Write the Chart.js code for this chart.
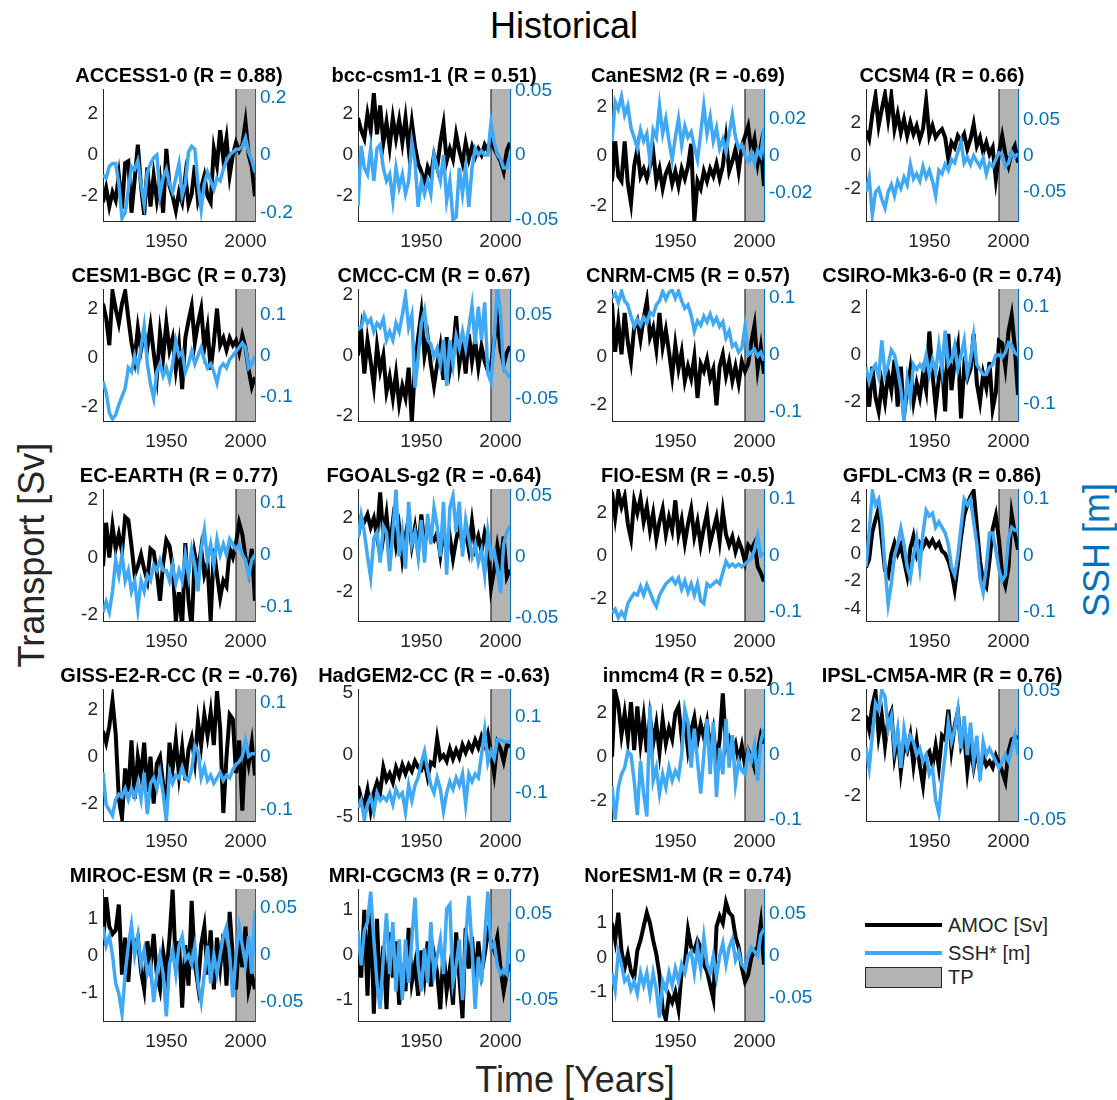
<!DOCTYPE html>
<html>
<head>
<meta charset="utf-8">
<script src="https://cdn.jsdelivr.net/npm/chart.js@4.4.0/dist/chart.umd.min.js"></script>
<style>
  body { margin: 0; background: #fff; font-family: "Liberation Sans", Arial, sans-serif; }
  #page { position: relative; width: 1117px; height: 1100px; overflow: hidden; background: #fff; }
  canvas.panel { position: absolute; }
  .lbl { position: absolute; white-space: nowrap; color: #262626; transform: translate(-50%, -50%); }
  .rot { transform: translate(-50%, -50%) rotate(-90deg); }
  .leg-line { position: absolute; left: 865px; width: 77px; height: 4px; }
  .leg-text { position: absolute; left: 948px; font-size: 20px; color: #262626; transform: translateY(-50%); }
</style>
</head>
<body>
<div id="page">
  <div class="lbl" style="left:564px; top:26px; font-size:36px; color:#000;">Historical</div>
  <div class="lbl rot" style="left:32px; top:555px; font-size:36px;">Transport [Sv]</div>
  <div class="lbl rot" style="left:1097px; top:550px; font-size:36px; color:#0072BD;">SSH [m]</div>
  <div class="lbl" style="left:575px; top:1080px; font-size:36px;">Time [Years]</div>

  <div class="leg-line" style="top:923px; background:#000;"></div>
  <div class="leg-text" style="top:925px;">AMOC [Sv]</div>
  <div class="leg-line" style="top:951px; background:#3fa9f5;"></div>
  <div class="leg-text" style="top:953px;">SSH* [m]</div>
  <div style="position:absolute; left:865px; top:967px; width:75px; height:19px; background:#b3b3b3; border:1px solid #262626;"></div>
  <div class="leg-text" style="top:977px;">TP</div>
</div>
<script>
// years sampled every 2 years
const YEARS = [1910,1912,1914,1916,1918,1920,1922,1924,1926,1928,
               1930,1932,1934,1936,1938,1940,1942,1944,1946,1948,
               1950,1952,1954,1956,1958,1960,1962,1964,1966,1968,
               1970,1972,1974,1976,1978,1980,1982,1984,1986,1988,
               1990,1992,1994,1996,1998,2000,2002,2004,2006];

const MODELS = ['ACCESS1-0','bcc-csm1-1','CanESM2','CCSM4','CESM1-BGC','CMCC-CM','CNRM-CM5','CSIRO-Mk3-6-0',
                'EC-EARTH','FGOALS-g2','FIO-ESM','GFDL-CM3','GISS-E2-R-CC','HadGEM2-CC','inmcm4','IPSL-CM5A-MR',
                'MIROC-ESM','MRI-CGCM3','NorESM1-M'];
const R_VALUES = [0.88, 0.51, -0.69, 0.66, 0.73, 0.67, 0.57, 0.74, 0.77, -0.64, -0.5, 0.86, -0.76, -0.63, 0.52, 0.76, -0.58, 0.77, 0.74];

const TP_START = 1994;

// AMOC [Sv] and SSH* [m] per model
const amocACCESS = [-2.3,-1.6,-2.5,-1.8,-2.2,-1.0,-2.6,-0.4,-0.3,-2.8, -1.2,0.5,-1.5,-2.9,-0.6,-2.5,-1.0,-2.2,-1.2,-2.8,
  0.3,-1.5,-2.0,-2.7,-1.8,-2.3,-1.0,-2.4,-1.9,-0.5, -2.2,-1.6,-1.0,-2.0,-2.3,0.3,-0.5,1.2,-0.2,0.8, -1.0,0.0,0.6,0.2,0.5,1.6,0.0,-0.6,-2.0];
const sshACCESS = [-0.07,-0.08,-0.04,-0.03,-0.03,-0.10,-0.22,-0.20,-0.12,-0.04, -0.05,-0.02,-0.10,-0.17,-0.06,-0.03,-0.01,0.00,-0.14,-0.08,
  -0.05,-0.10,-0.13,-0.08,-0.03,-0.14,-0.10,0.01,0.03,0.02, -0.10,-0.19,-0.10,-0.06,-0.09,-0.12,-0.08,-0.09,-0.05,-0.02, 0.00,0.01,0.02,0.02,0.03,0.06,0.01,-0.02,-0.06];

const amocBCC = [1.8,1.2,0.8,2.0,1.2,3.0,1.0,2.4,0.6,1.6, 0.4,1.8,0.8,1.7,0.6,1.8,0.3,1.6,0.4,-0.4,
  -0.8,-1.4,-0.6,-1.0,0.0,-0.6,0.6,1.5,-0.3,0.3, -0.2,1.0,0.2,-0.4,0.6,-0.2,0.4,-0.1,0.3,0.0, 0.5,0.2,0.8,0.3,0.0,-0.3,-0.8,0.2,0.6];
const sshBCC = [-0.040,0.007,-0.010,-0.015,0.005,-0.020,0.005,0.008,-0.010,-0.020, -0.015,-0.035,-0.010,-0.025,-0.015,-0.030,-0.020,0.010,-0.005,-0.040,
  -0.020,-0.030,-0.020,-0.030,0.000,-0.010,-0.020,0.000,-0.035,-0.020, -0.050,-0.048,-0.010,-0.030,-0.010,-0.040,-0.010,0.005,0.000,0.003, 0.000,0.000,0.025,0.010,0.000,-0.003,-0.010,-0.010,0.000];

const amocCAN = [-1.0,0.6,-0.8,-1.0,0.6,-1.1,-1.9,-0.4,0.3,-0.8, -0.5,-0.9,-0.4,0.2,-1.0,-0.5,-1.3,-0.7,-0.4,-1.1,
  -0.6,-1.2,-0.5,-0.9,-0.4,0.5,-2.6,-1.0,-1.3,-0.6, -1.0,-0.5,-0.8,-0.3,-0.9,-0.4,0.7,-0.6,-0.2,0.3, -0.6,0.4,0.8,1.2,0.2,0.7,-0.3,0.4,-1.2];
const sshCAN = [0.008,0.029,0.025,0.032,0.022,0.027,0.015,0.010,0.004,0.014, 0.008,0.012,-0.003,0.014,0.010,0.027,0.012,0.020,0.008,-0.002,
  0.010,0.020,0.006,0.016,0.010,0.013,0.005,-0.002,0.012,0.027, 0.012,0.021,0.008,0.015,0.004,0.009,0.002,0.012,0.022,0.010, 0.004,0.006,0.000,-0.003,0.002,-0.004,0.003,0.000,0.015];

const amocCCSM = [1.5,1.0,2.5,3.6,1.8,2.8,3.7,2.2,3.6,1.6, 2.5,1.4,2.2,1.2,2.0,1.3,1.8,1.0,1.6,3.3,
  1.2,1.8,1.1,1.4,1.6,1.1,-0.2,0.8,0.5,1.2, 0.9,1.3,0.4,1.0,1.9,0.6,1.1,0.2,0.8,0.1, 0.5,-1.4,0.2,1.2,0.1,-0.6,0.2,0.6,-0.4];
const sshCCSM = [-0.050,-0.030,-0.082,-0.050,-0.045,-0.060,-0.072,-0.050,-0.040,-0.055, -0.035,-0.045,-0.030,-0.040,-0.012,-0.032,-0.025,-0.035,-0.015,-0.030,
  -0.020,-0.035,-0.055,-0.020,-0.025,-0.012,-0.020,-0.005,-0.010,0.005, 0.020,-0.010,-0.002,-0.012,0.000,-0.008,-0.015,-0.003,-0.025,-0.010, -0.015,-0.005,0.004,0.002,-0.015,-0.010,0.005,-0.002,0.003];

const amocCESM = [2.2,1.6,0.5,2.7,2.0,1.4,2.2,2.7,1.6,0.6, -0.1,1.2,0.3,1.0,0.4,1.3,0.2,-0.8,1.0,0.0,
  1.4,0.3,0.8,-0.5,0.5,-1.3,0.8,1.5,2.1,0.6, 1.4,2.0,0.4,1.2,-0.5,0.6,2.0,0.5,0.8,0.3, 0.8,0.5,0.7,0.2,0.9,0.4,-0.5,-1.2,-0.8];
const sshCESM = [-0.063,-0.090,-0.140,-0.155,-0.145,-0.120,-0.100,-0.080,-0.030,-0.040, 0.000,-0.030,0.020,0.072,-0.020,-0.070,-0.104,-0.040,-0.020,-0.050,
  -0.030,-0.060,-0.020,0.035,0.000,0.010,-0.040,-0.020,0.010,-0.020, 0.000,0.020,-0.010,-0.030,-0.020,-0.040,-0.067,-0.030,-0.020,-0.030, -0.010,0.000,0.010,0.020,0.031,0.020,-0.030,-0.020,0.000];

const amocCMCC = [0.0,0.8,-0.6,0.5,-0.2,-1.0,0.3,-0.5,0.0,-1.2, -0.7,-1.4,-0.6,-1.6,-1.0,-1.4,-0.4,-2.2,-0.3,0.6,
  1.4,0.0,0.6,-0.3,-1.0,-0.3,0.3,-0.8,0.6,-0.5, 0.1,1.3,-0.3,0.4,-0.6,0.7,-0.2,0.5,-0.4,0.3, -0.2,-0.5,-0.3,0.5,1.2,0.2,-0.3,0.1,0.3];
const sshCMCC = [0.033,0.035,0.050,0.040,0.045,0.030,0.040,0.035,0.045,0.020, 0.030,0.020,0.040,0.030,0.050,0.073,0.035,0.050,-0.037,0.000,
  0.040,0.055,0.020,0.015,0.000,0.010,-0.010,0.020,-0.035,0.020, -0.010,0.025,0.010,0.030,0.010,0.035,0.061,0.015,0.060,0.020, 0.065,-0.020,-0.030,0.020,0.085,0.050,-0.015,-0.020,-0.025];

const amocCNRM = [2.2,0.2,1.4,0.1,1.8,0.6,-0.2,1.2,1.5,0.7, 1.6,2.3,0.8,1.2,0.3,1.8,0.4,1.1,0.2,-0.8,
  0.5,-0.5,0.2,-1.0,-0.4,-0.9,0.0,-1.7,-0.3,-0.6, -0.1,-0.9,-0.5,-2.0,-0.4,0.1,-0.8,-0.2,-1.0,-0.4, -1.1,-0.2,-0.6,-0.3,0.6,1.3,-0.5,0.4,-0.7];
const sshCNRM = [0.100,0.108,0.092,0.112,0.095,0.088,0.068,0.050,0.062,0.052, 0.066,0.056,0.075,0.070,0.088,0.095,0.112,0.098,0.110,0.114,
  0.100,0.113,0.095,0.082,0.088,0.070,0.042,0.060,0.052,0.068, 0.058,0.072,0.055,0.065,0.050,0.058,0.030,0.042,0.015,0.020, 0.005,0.012,0.050,0.000,0.005,0.010,-0.002,0.005,-0.010];

const amocCSIRO = [-1.0,-2.2,-0.5,-1.8,-2.4,-1.2,-2.0,-0.8,-1.5,-0.2, -2.2,-0.5,-2.6,-1.5,-0.6,-2.0,-1.2,-1.8,-0.8,-1.5,
  1.0,-0.8,-2.2,-1.0,-0.4,-2.4,0.9,-1.5,-0.3,0.4, -2.7,-0.5,-1.0,-0.6,0.9,-1.2,-2.0,-0.8,-1.4,-0.3, -2.3,-1.6,0.6,0.5,-0.5,1.0,1.7,0.3,-1.7];
const sshCSIRO = [-0.025,-0.055,-0.030,-0.020,-0.045,0.030,-0.040,-0.020,0.010,0.000, -0.030,-0.070,-0.136,-0.050,-0.090,-0.020,-0.030,-0.020,-0.030,0.000,
  -0.040,-0.010,-0.035,0.020,-0.030,0.050,-0.020,-0.010,0.020,-0.030, 0.000,0.030,-0.040,-0.010,0.040,-0.020,-0.030,-0.040,-0.040,-0.025, -0.020,0.000,0.000,-0.005,0.005,0.025,0.020,0.005,0.000];

const amocEC = [-0.3,1.2,0.0,1.1,0.3,0.8,0.2,1.4,1.3,0.4, -0.6,-0.3,0.1,-0.4,-0.8,0.3,0.2,-0.5,-1.5,-0.2,
  0.6,0.4,-0.3,-2.2,-1.2,-2.4,0.5,-1.5,-2.4,0.1, -0.5,0.3,-0.6,-0.2,-2.2,0.3,-0.6,-1.4,-0.8,-1.0, 0.3,0.0,0.5,1.2,0.8,0.0,-0.5,0.3,-1.5];
const sshEC = [-0.110,-0.090,-0.110,-0.070,-0.010,-0.040,0.000,-0.050,-0.030,-0.070, -0.050,-0.104,-0.050,-0.070,-0.040,-0.050,-0.020,-0.030,-0.010,-0.030,
  -0.030,-0.050,-0.020,-0.055,-0.030,-0.050,0.000,-0.040,0.010,-0.020, -0.070,0.010,0.047,-0.010,0.020,-0.020,0.030,0.000,0.020,0.000, 0.030,0.020,0.010,0.020,0.000,-0.010,-0.040,-0.010,0.000];

const amocFGOALS = [1.0,2.0,1.8,2.2,1.5,2.0,1.0,3.4,1.0,2.2, 0.3,1.8,0.5,1.5,-0.2,1.0,2.0,0.5,1.5,0.2,
  2.2,0.5,1.6,1.0,0.8,1.2,0.0,1.3,0.2,1.0, -0.2,0.8,1.7,0.5,1.3,0.3,1.8,0.4,1.0,0.2, 1.2,0.5,-1.8,-0.8,0.5,-0.5,1.0,-1.2,-0.8];
const sshFGOALS = [0.015,0.034,0.020,0.000,-0.017,0.015,0.020,-0.005,0.025,0.020, -0.012,0.020,0.055,0.000,0.020,-0.010,0.045,0.010,0.020,0.000,
  0.030,-0.005,0.035,0.010,0.040,0.025,0.000,0.045,-0.015,0.040, 0.050,0.020,0.045,0.000,0.030,0.015,0.000,0.010,-0.005,0.005, -0.015,0.020,0.000,0.005,-0.010,-0.030,0.010,0.020,0.025];

const amocFIO = [3.0,1.8,3.0,2.3,2.8,1.5,0.8,2.6,2.0,2.7, 1.6,2.3,1.2,2.0,0.8,1.6,2.2,1.0,1.8,1.2,
  2.6,1.0,1.7,0.6,1.5,2.2,0.9,1.6,0.5,1.3, 2.0,0.6,1.2,1.8,0.7,2.1,1.0,0.5,0.9,0.2, 0.7,0.3,-0.3,0.5,0.3,0.6,-0.5,-0.8,-1.2];
const sshFIO = [-0.102,-0.095,-0.110,-0.100,-0.110,-0.085,-0.075,-0.067,-0.070,-0.055, -0.070,-0.052,-0.065,-0.080,-0.090,-0.070,-0.060,-0.050,-0.045,-0.040,
  -0.050,-0.040,-0.060,-0.045,-0.065,-0.050,-0.070,-0.050,-0.080,-0.085, -0.050,-0.055,-0.050,-0.045,-0.050,-0.030,-0.010,-0.020,-0.015,-0.020, -0.015,-0.020,-0.015,-0.010,-0.005,0.010,0.035,0.000,0.005];

const amocGFDL = [-1.0,-0.4,1.6,2.5,3.3,1.0,-1.2,-1.6,0.0,0.8, 0.0,0.6,-0.5,-1.6,0.4,1.3,0.0,0.8,0.5,1.0,
  0.6,1.0,0.5,0.8,0.2,0.0,-0.5,-1.3,-2.6,-0.8, 1.2,2.8,3.6,4.2,4.6,2.0,-0.5,-2.0,-2.4,-0.5, 1.8,2.8,1.0,-1.5,-2.3,-1.0,2.9,1.5,0.3];
const sshGFDL = [-0.020,0.040,0.113,0.090,0.100,0.060,-0.020,-0.086,-0.050,0.000, 0.020,0.048,0.020,-0.020,-0.040,0.000,0.030,-0.020,0.040,0.080,
  0.070,0.075,0.050,0.060,0.050,0.040,0.020,-0.020,-0.035,0.000, 0.050,0.100,0.090,0.100,0.060,0.020,-0.040,-0.065,-0.020,0.040, 0.040,0.010,-0.025,-0.045,-0.035,0.030,0.050,0.045,0.045];

const amocGISS = [1.1,0.6,1.3,2.4,1.0,-1.8,-2.6,-0.5,-1.5,0.7, -1.8,0.0,-0.8,0.6,-1.5,0.0,-2.0,-0.3,0.0,-1.2,
  -2.0,0.6,-0.5,0.7,-0.8,0.4,-1.0,0.3,0.8,-0.2, 1.5,0.5,1.8,0.9,1.9,0.5,2.8,1.2,-2.4,0.0, 1.8,1.6,-0.7,0.7,-2.3,0.6,-0.3,0.6,-0.8];
const sshGISS = [-0.030,-0.090,-0.100,-0.110,-0.080,-0.070,-0.075,-0.060,-0.080,-0.060, -0.075,-0.050,-0.080,-0.030,-0.107,-0.050,-0.040,-0.060,-0.030,-0.070,
  -0.120,-0.030,-0.050,-0.035,-0.040,-0.020,-0.040,-0.045,-0.025,0.020, 0.010,-0.040,-0.020,-0.045,-0.035,-0.050,-0.040,-0.030,-0.045,-0.035, -0.040,-0.025,-0.015,-0.010,0.000,0.030,0.000,0.005,0.005];

const amocHAD = [-2.5,-3.5,-4.0,-2.8,-4.5,-3.0,-2.2,-3.0,-1.0,-2.0, -1.5,-2.2,-1.0,-1.7,-0.8,-1.5,-0.8,-1.3,-0.5,-1.0,
  -1.2,-0.5,-1.8,-0.6,-0.8,1.3,-0.3,0.0,-0.5,0.5, -0.3,0.4,-0.2,0.8,0.2,0.9,0.4,1.2,0.6,1.5, 0.8,1.7,0.2,-1.5,1.0,0.5,-0.5,0.8,0.7];
const sshHAD = [-0.140,-0.120,-0.170,-0.130,-0.110,-0.150,-0.100,-0.120,-0.110,-0.120, -0.100,-0.130,-0.090,-0.110,-0.100,-0.150,-0.080,-0.120,-0.080,-0.060,
  -0.020,0.010,-0.040,-0.080,-0.100,-0.060,-0.090,-0.148,-0.100,-0.070, -0.090,-0.060,-0.080,-0.050,-0.130,-0.050,-0.070,-0.050,-0.060,0.000, 0.065,-0.020,0.010,-0.010,0.040,0.040,0.035,0.035,0.035];

const amocINM = [0.0,3.0,2.4,1.0,2.0,0.8,2.5,0.3,2.3,0.6, 1.8,0.2,1.8,0.6,1.5,0.2,1.7,0.6,1.3,0.8,
  2.0,2.3,0.9,1.6,0.3,1.2,1.8,0.7,1.5,0.9, 1.6,0.4,1.2,-0.3,0.8,2.9,0.4,0.8,0.2,0.6, -0.2,0.5,-0.4,0.3,0.0,-0.5,0.2,1.0,0.6];
const sshINM = [-0.048,-0.100,-0.050,-0.030,-0.020,0.005,0.000,-0.040,-0.093,-0.010, -0.060,-0.095,0.075,-0.040,-0.020,-0.060,-0.030,-0.050,-0.020,-0.040,
  -0.025,-0.035,0.000,0.070,0.050,-0.020,0.040,-0.010,-0.060,0.000, 0.055,-0.030,0.050,-0.065,0.010,-0.030,0.055,-0.020,0.030,-0.045, -0.010,-0.025,-0.030,0.005,-0.010,0.015,-0.040,0.020,0.040];

const amocIPSL = [2.0,1.3,2.5,3.2,1.0,2.0,0.5,1.8,2.2,0.0, 1.0,-0.8,0.5,0.2,1.0,-0.5,0.7,-0.5,-1.5,0.0,
  0.2,-0.5,0.5,-0.6,1.0,0.8,2.3,0.3,1.5,2.2, 0.5,1.0,-0.8,0.5,-0.6,0.3,-0.8,0.0,-0.5,-0.3, -0.6,0.0,-0.4,-0.8,-1.3,0.2,0.8,0.9,0.9];
const sshIPSL = [0.006,-0.010,0.015,0.040,0.035,0.050,0.045,0.020,0.030,0.005, 0.020,-0.010,0.020,0.005,0.015,0.010,0.000,0.005,-0.005,0.000,
  -0.015,-0.010,-0.035,-0.045,-0.020,0.000,0.025,0.010,0.020,0.035, 0.005,0.030,0.000,0.025,-0.005,0.015,-0.020,0.010,0.000,0.005, 0.000,-0.005,-0.010,-0.005,0.000,-0.005,0.005,0.015,0.000];

const amocMIROC = [0.3,1.6,0.8,0.6,0.7,1.4,-0.5,0.5,-0.7,0.6, 0.2,0.5,-0.4,-0.9,0.4,-0.3,0.6,-0.5,-0.9,0.1,
  -0.5,0.5,1.8,-0.3,0.4,-1.4,0.3,-0.8,1.5,-0.2, -0.8,0.3,0.8,-0.5,0.7,-0.9,0.5,-0.3,0.6,-0.8, 1.2,0.0,-0.9,0.5,-0.3,0.8,-0.9,-0.5,-0.9];
const sshMIROC = [0.030,0.010,0.020,0.000,-0.030,-0.041,-0.062,-0.020,0.010,0.032, 0.000,0.020,-0.010,0.005,-0.020,-0.010,-0.050,-0.020,0.000,-0.020,
  -0.065,-0.010,0.005,-0.020,0.010,0.020,-0.005,0.000,-0.010,0.010, -0.030,-0.050,-0.020,0.010,-0.030,0.000,-0.020,0.000,0.020,0.030, 0.000,-0.045,0.000,0.030,0.010,-0.010,0.020,-0.020,0.048];

const amocMRI = [0.3,-0.5,1.0,-0.9,1.2,-1.3,0.8,-1.0,0.2,-1.2, 0.5,-0.5,0.3,-1.1,-0.2,-0.8,0.6,-0.6,-0.2,-0.9,
  0.1,-0.5,0.3,-0.7,0.0,-0.4,-1.2,0.1,-0.8,-0.3, -1.1,0.5,-0.5,-1.4,0.6,-0.3,0.4,-0.6,0.3,-0.4, 0.0,0.5,0.3,0.1,0.4,-0.3,-0.8,-0.4,-0.2];
const sshMRI = [0.030,-0.010,0.030,0.040,0.075,0.020,-0.030,-0.060,0.000,0.050, -0.020,0.040,-0.040,0.020,-0.050,0.020,-0.030,0.020,0.068,-0.010,
  -0.040,0.010,-0.030,0.040,-0.020,0.000,0.020,-0.020,0.055,0.060, -0.030,-0.010,0.020,-0.050,0.020,0.070,0.010,-0.060,0.000,-0.030, 0.020,0.075,0.010,0.015,-0.010,-0.020,-0.015,-0.020,0.040];

const amocNOR = [1.0,0.5,1.3,0.2,-0.3,0.1,-0.4,-0.6,0.2,0.5, 0.9,1.3,1.0,0.5,0.1,-0.5,-1.5,-1.8,-1.1,-1.3,
  -1.0,-1.5,-0.4,-0.2,0.8,0.3,0.2,0.5,0.3,-0.2, -0.4,-0.8,-1.2,0.9,1.2,1.0,1.6,1.3,1.2,0.6, 0.3,-0.3,-0.7,-0.5,0.0,0.2,0.3,1.0,-0.2];
const sshNOR = [-0.020,-0.040,0.005,-0.010,-0.030,-0.025,-0.040,-0.030,-0.045,-0.020, -0.035,-0.020,-0.045,-0.020,-0.040,-0.073,-0.030,-0.040,-0.020,-0.035,
  -0.015,-0.030,-0.010,-0.020,0.000,0.005,-0.020,0.010,-0.015,0.022, -0.010,-0.020,0.000,-0.025,0.000,0.015,-0.010,0.010,0.020,-0.005, 0.005,-0.010,-0.015,0.000,0.010,0.005,0.000,0.025,0.032];

const AMOC_LIST = [amocACCESS, amocBCC, amocCAN, amocCCSM, amocCESM, amocCMCC, amocCNRM, amocCSIRO, amocEC, amocFGOALS,
                   amocFIO, amocGFDL, amocGISS, amocHAD, amocINM, amocIPSL, amocMIROC, amocMRI, amocNOR];
const SSH_LIST = [sshACCESS, sshBCC, sshCAN, sshCCSM, sshCESM, sshCMCC, sshCNRM, sshCSIRO, sshEC, sshFGOALS,
                  sshFIO, sshGFDL, sshGISS, sshHAD, sshINM, sshIPSL, sshMIROC, sshMRI, sshNOR];

// tick labels and limits of each panel
const LEFT_TICKS = [[-2,0,2],[-2,0,2],[-2,0,2],[-2,0,2],[-2,0,2],[-2,0,2],[-2,0,2],[-2,0,2],[-2,0,2],[-2,0,2],
                    [-2,0,2],[-4,-2,0,2,4],[-2,0,2],[-5,0,5],[-2,0,2],[-2,0,2],[-1,0,1],[-1,0,1],[-1,0,1]];
const RIGHT_TICKS = [[-0.2,0,0.2],[-0.05,0,0.05],[-0.02,0,0.02],[-0.05,0,0.05],[-0.1,0,0.1],[-0.05,0,0.05],[-0.1,0,0.1],[-0.1,0,0.1],
                     [-0.1,0,0.1],[-0.05,0,0.05],[-0.1,0,0.1],[-0.1,0,0.1],[-0.1,0,0.1],[-0.1,0,0.1],[-0.1,0,0.1],[-0.05,0,0.05],
                     [-0.05,0,0.05],[-0.05,0,0.05],[-0.05,0,0.05]];
const LEFT_LIM = [[-3.2,3.2],[-3.2,3.2],[-2.6,2.7],[-3.9,4.0],[-2.6,2.8],[-2.16,2.19],[-2.65,2.79],[-2.81,2.81],[-2.2,2.37],[-3.58,3.58],
                  [-3.05,3.13],[-4.9,4.73],[-2.74,2.89],[-5.32,5.32],[-2.95,3.1],[-3.29,3.34],[-1.76,1.82],[-1.46,1.46],[-1.84,1.99]];
const RIGHT_LIM = [[-0.23,0.23],[-0.051,0.051],[-0.035,0.036],[-0.09,0.092],[-0.16,0.163],[-0.077,0.081],[-0.116,0.116],[-0.136,0.136],[-0.127,0.126],[-0.053,0.0555],
                   [-0.116,0.118],[-0.116,0.118],[-0.12,0.125],[-0.174,0.174],[-0.102,0.101],[-0.051,0.051],[-0.07,0.07],[-0.074,0.078],[-0.077,0.079]];

const COL_X = [103, 358, 612, 866];
const ROW_Y = [89, 289, 489, 689, 889];
const PLOT_W = 152, PLOT_H = 132, SIDE = 90, TOP = 30, BOTTOM = 45;
const FONT = '"Liberation Sans", Arial, sans-serif';

// gray "TP" period, drawn under the axes and lines
const tpBox = {
  id: 'tpBox',
  beforeDraw(chart) {
    const { ctx, chartArea, scales } = chart;
    const x0 = scales.x.getPixelForValue(TP_START);
    ctx.save();
    ctx.fillStyle = '#b3b3b3';
    ctx.fillRect(x0, chartArea.top, chartArea.right - x0, chartArea.bottom - chartArea.top);
    ctx.strokeStyle = '#262626';
    ctx.lineWidth = 1.2;
    ctx.beginPath();
    ctx.moveTo(x0, chartArea.top);
    ctx.lineTo(x0, chartArea.bottom);
    ctx.stroke();
    ctx.restore();
  }
};

const page = document.getElementById('page');

MODELS.forEach((name, i) => {
  const col = i % 4, row = Math.floor(i / 4);
  const cv = document.createElement('canvas');
  cv.className = 'panel';
  cv.width = PLOT_W + 2 * SIDE;
  cv.height = PLOT_H + TOP + BOTTOM;
  cv.style.left = (COL_X[col] - SIDE) + 'px';
  cv.style.top = (ROW_Y[row] - TOP) + 'px';
  page.appendChild(cv);

  const lt = LEFT_TICKS[i], rt = RIGHT_TICKS[i];

  new Chart(cv.getContext('2d'), {
    type: 'line',
    data: {
      datasets: [
        {
          label: 'SSH* [m]',
          data: YEARS.map((yr, k) => ({ x: yr, y: SSH_LIST[i][k] })),
          yAxisID: 'y2',
          borderColor: '#3fa9f5',
          borderWidth: 3.5,
          pointRadius: 0,
          order: 1
        },
        {
          label: 'AMOC [Sv]',
          data: YEARS.map((yr, k) => ({ x: yr, y: AMOC_LIST[i][k] })),
          yAxisID: 'y',
          borderColor: '#000',
          borderWidth: 4,
          pointRadius: 0,
          order: 2
        }
      ]
    },
    options: {
      responsive: false,
      animation: false,
      devicePixelRatio: 1,
      layout: { padding: 0 },
      plugins: {
        legend: { display: false },
        tooltip: { enabled: false },
        title: {
          display: true,
          text: name + ' (R = ' + R_VALUES[i] + ')',
          color: '#000',
          font: { family: FONT, size: 20, weight: 'bold', lineHeight: 1.2 },
          padding: { top: 5, bottom: 1 }
        }
      },
      scales: {
        x: {
          type: 'linear',
          min: 1910, max: 2006,
          grid: { display: false, drawTicks: false },
          border: { color: '#262626', width: 1 },
          ticks: { color: '#262626', font: { family: FONT, size: 19 }, padding: 9, maxRotation: 0,
                   callback: v => String(v) },
          afterBuildTicks: s => { s.ticks = [{ value: 1950 }, { value: 2000 }]; },
          afterFit: s => { s.height = BOTTOM; }
        },
        y: {
          position: 'left',
          min: LEFT_LIM[i][0], max: LEFT_LIM[i][1],
          grid: { display: false, drawTicks: false },
          border: { color: '#262626', width: 1 },
          ticks: { color: '#262626', font: { family: FONT, size: 19 }, padding: 5, callback: v => String(v) },
          afterBuildTicks: s => { s.ticks = lt.map(v => ({ value: v })); },
          afterFit: s => { s.width = SIDE; }
        },
        y2: {
          position: 'right',
          min: RIGHT_LIM[i][0], max: RIGHT_LIM[i][1],
          grid: { display: false, drawTicks: false },
          border: { color: '#0072BD', width: 1 },
          ticks: { color: '#0072BD', font: { family: FONT, size: 19 }, padding: 5, callback: v => String(v) },
          afterBuildTicks: s => { s.ticks = rt.map(v => ({ value: v })); },
          afterFit: s => { s.width = SIDE; }
        }
      }
    },
    plugins: [tpBox]
  });
});
</script>
</body>
</html>
